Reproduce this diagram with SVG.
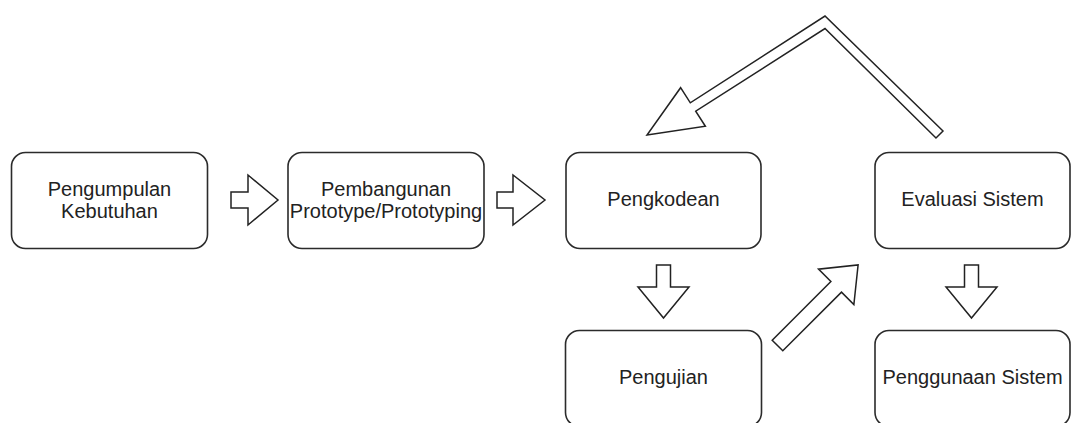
<svg xmlns="http://www.w3.org/2000/svg" width="1072" height="423" viewBox="0 0 1072 423">
<style>
.box{fill:#ffffff;stroke:#2b2b2b;stroke-width:1.6}
.arr{fill:#ffffff;stroke:#222222;stroke-width:1.5;stroke-linejoin:miter}
.t{font-family:"Liberation Sans",Arial,sans-serif;font-size:20px;fill:#222222;text-anchor:middle}
</style>
<rect width="1072" height="423" fill="#ffffff"/>
<g id="connectors">
<polygon class="arr" points="231,192 248,192 248,175 278,200 248,225 248,208 231,208"/>
<polygon class="arr" points="497,192 513,192 513,175 545,200 513,225 513,208 497,208"/>
<polygon class="arr" points="656.5,265 670.5,265 670.5,287 689,287 663.5,318 638,287 656.5,287"/>
<polygon class="arr" points="964.5,265 978.5,265 978.5,287 997,287 971.5,318 946,287 964.5,287"/>
<polygon class="arr" transform="translate(777.5,345.5) rotate(-45)" points="0,-7.5 83,-7.5 83,-25 114,0 83,25 83,7.5 0,7.5"/>
<polygon class="arr" points="943,131 825,16 690.3,102.8 680.6,87.7 647,135 705.4,126.3 695.7,111.2 825,28.5 936,138"/>
</g>
<g id="n1">
<rect class="box" x="11.5" y="152.5" width="196" height="96" rx="14"/>
<text class="t" x="109.5" y="196">Pengumpulan</text>
<text class="t" x="109.5" y="218">Kebutuhan</text>
</g>
<g id="n2">
<rect class="box" x="288" y="152.5" width="196" height="96" rx="14"/>
<text class="t" x="386" y="196">Pembangunan</text>
<text class="t" x="386" y="218">Prototype/Prototyping</text>
</g>
<g id="n3">
<rect class="box" x="566" y="152.5" width="195" height="96" rx="14"/>
<text class="t" x="663.5" y="206">Pengkodean</text>
</g>
<g id="n4">
<rect class="box" x="875" y="152.5" width="195" height="96" rx="14"/>
<text class="t" x="972.5" y="206">Evaluasi Sistem</text>
</g>
<g id="n5">
<rect class="box" x="565.5" y="330.5" width="196" height="96" rx="14"/>
<text class="t" x="663.5" y="384">Pengujian</text>
</g>
<g id="n6">
<rect class="box" x="875" y="330.5" width="195" height="96" rx="14"/>
<text class="t" x="972.5" y="384">Penggunaan Sistem</text>
</g>
</svg>
